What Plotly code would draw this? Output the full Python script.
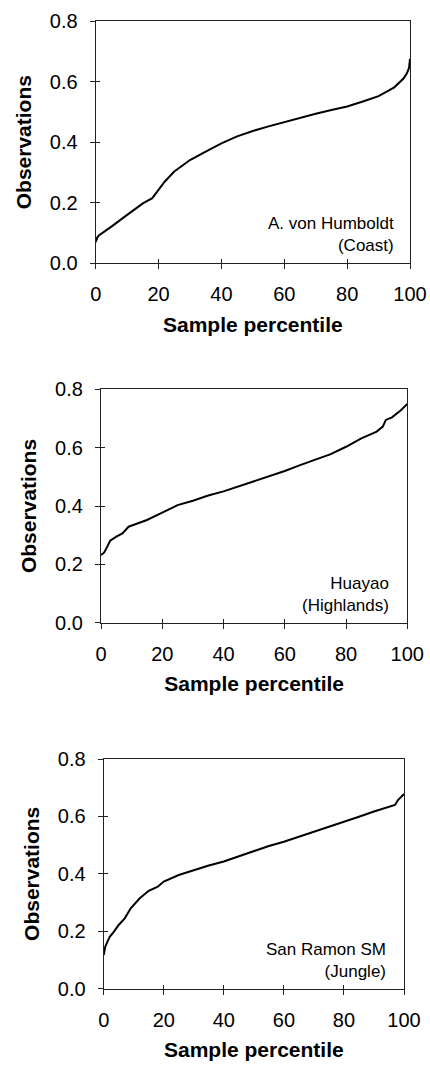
import plotly.graph_objects as go

# ---------------- data ----------------
pct_coast = [0, 0.5, 1, 2, 5, 10, 15, 18, 20, 22, 25, 30, 35, 40, 45, 50, 55, 60,
             65, 70, 75, 80, 85, 90, 95, 98, 99, 99.7, 100]
obs_coast = [0.07, 0.085, 0.092, 0.099, 0.121, 0.16, 0.198, 0.215, 0.242, 0.27, 0.303,
             0.341, 0.369, 0.396, 0.419, 0.437, 0.452, 0.466, 0.481, 0.494, 0.506, 0.518,
             0.534, 0.552, 0.581, 0.611, 0.627, 0.645, 0.675]

pct_high = [0, 1, 2, 3, 5, 7, 9, 12, 15, 20, 25, 30, 35, 40, 45, 50, 55, 60, 65, 70,
            75, 80, 85, 90, 92, 93, 95, 98, 100]
obs_high = [0.232, 0.24, 0.26, 0.281, 0.295, 0.306, 0.329, 0.341, 0.352, 0.377, 0.403,
            0.418, 0.436, 0.45, 0.467, 0.484, 0.502, 0.52, 0.54, 0.559, 0.578, 0.603,
            0.632, 0.655, 0.672, 0.695, 0.704, 0.729, 0.75]

pct_jungle = [0, 0.5, 1, 2, 3, 5, 7, 9, 12, 15, 18, 20, 25, 30, 35, 40, 45, 50, 55, 60,
              65, 70, 75, 80, 85, 90, 95, 97, 98, 99.5, 100]
obs_jungle = [0.117, 0.146, 0.158, 0.181, 0.193, 0.222, 0.245, 0.28, 0.315, 0.341, 0.355,
              0.373, 0.396, 0.413, 0.429, 0.443, 0.461, 0.481, 0.497, 0.512, 0.529, 0.547,
              0.564, 0.582, 0.599, 0.617, 0.634, 0.64, 0.657, 0.675, 0.678]

labels = ["A. von Humboldt<br>(Coast)", "Huayao<br>(Highlands)", "San Ramon SM<br>(Jungle)"]
x_ticks = [0, 20, 40, 60, 80, 100]
y_ticks = [0.0, 0.2, 0.4, 0.6, 0.8]
x_title = "Sample percentile"
y_title = "Observations"

# ---------------- layout geometry (pixels) ----------------
W, H = 430, 1070
boxes = [  # (left, right, top, bottom) in px
    (95.7, 410.0, 21.0, 263.3),
    (101.0, 407.3, 389.3, 622.7),
    (103.7, 404.0, 759.0, 988.7),
]
ann_pos = [(396.0, 234.5), (390.7, 594.0), (388.3, 960.7)]

FONT = "Arial, Liberation Sans, sans-serif"
series = [(pct_coast, obs_coast), (pct_high, obs_high), (pct_jungle, obs_jungle)]

fig = go.Figure()
layout = dict(
    width=W, height=H,
    margin=dict(l=0, r=0, t=0, b=0),
    paper_bgcolor="white", plot_bgcolor="white",
    showlegend=False,
    font=dict(family=FONT, color="black"),
)
annotations = []

for i, ((xs, ys), (l, r, t, b)) in enumerate(zip(series, boxes)):
    n = i + 1
    m = n + 3
    xd = [l / W, r / W]
    yd = [1 - b / H, 1 - t / H]
    fig.add_trace(go.Scatter(x=xs, y=ys, mode="lines",
                             line=dict(color="black", width=2),
                             xaxis=f"x{n}", yaxis=f"y{n}", hoverinfo="skip"))
    # empty trace to activate the overlay axes (inside half of the crossing ticks)
    fig.add_trace(go.Scatter(x=[], y=[], mode="lines", xaxis=f"x{m}", yaxis=f"y{m}",
                             hoverinfo="skip"))
    common_x = dict(range=[0, 100], tickvals=x_ticks, domain=xd, showgrid=False,
                    zeroline=False, fixedrange=True)
    common_y = dict(range=[0, 0.8], tickvals=y_ticks, domain=yd, showgrid=False,
                    zeroline=False, fixedrange=True)
    layout[f"xaxis{n}"] = dict(
        **common_x, anchor=f"y{n}", showline=True, mirror=True, linecolor="#222",
        linewidth=1.2, ticks="outside", ticklen=5, tickwidth=1, tickcolor="#222",
        tickfont=dict(size=20, family=FONT, color="black"),
        ticklabelstandoff=8,
        title=dict(text=f"<b>{x_title}</b>", font=dict(size=21, family=FONT, color="black"),
                   standoff=12),
        automargin=False,
    )
    layout[f"yaxis{n}"] = dict(
        **common_y, anchor=f"x{n}", showline=True, mirror=True, linecolor="#222",
        linewidth=1.2, ticks="outside", ticklen=5, tickwidth=1, tickcolor="#222",
        tickformat=".1f",
        tickfont=dict(size=20, family=FONT, color="black"),
        ticklabelstandoff=8,
        title=dict(text=f"<b>{y_title}</b>", font=dict(size=21, family=FONT, color="black"),
                   standoff=12),
        automargin=False,
    )
    layout[f"xaxis{m}"] = dict(
        **common_x, anchor=f"y{m}", overlaying=f"x{n}", showline=False,
        ticks="inside", ticklen=4, tickwidth=1, tickcolor="#222", showticklabels=False,
    )
    layout[f"yaxis{m}"] = dict(
        **common_y, anchor=f"x{m}", overlaying=f"y{n}", showline=False,
        ticks="inside", ticklen=4, tickwidth=1, tickcolor="#222", showticklabels=False,
    )
    ax, ay = ann_pos[i]
    annotations.append(dict(
        text=labels[i], xref="paper", yref="paper", x=ax / W, y=1 - ay / H,
        xanchor="right", yanchor="middle", align="right", showarrow=False,
        font=dict(size=17, family=FONT, color="black"),
    ))

layout["annotations"] = annotations
fig.update_layout(**layout)
fig.write_html("out.html")
